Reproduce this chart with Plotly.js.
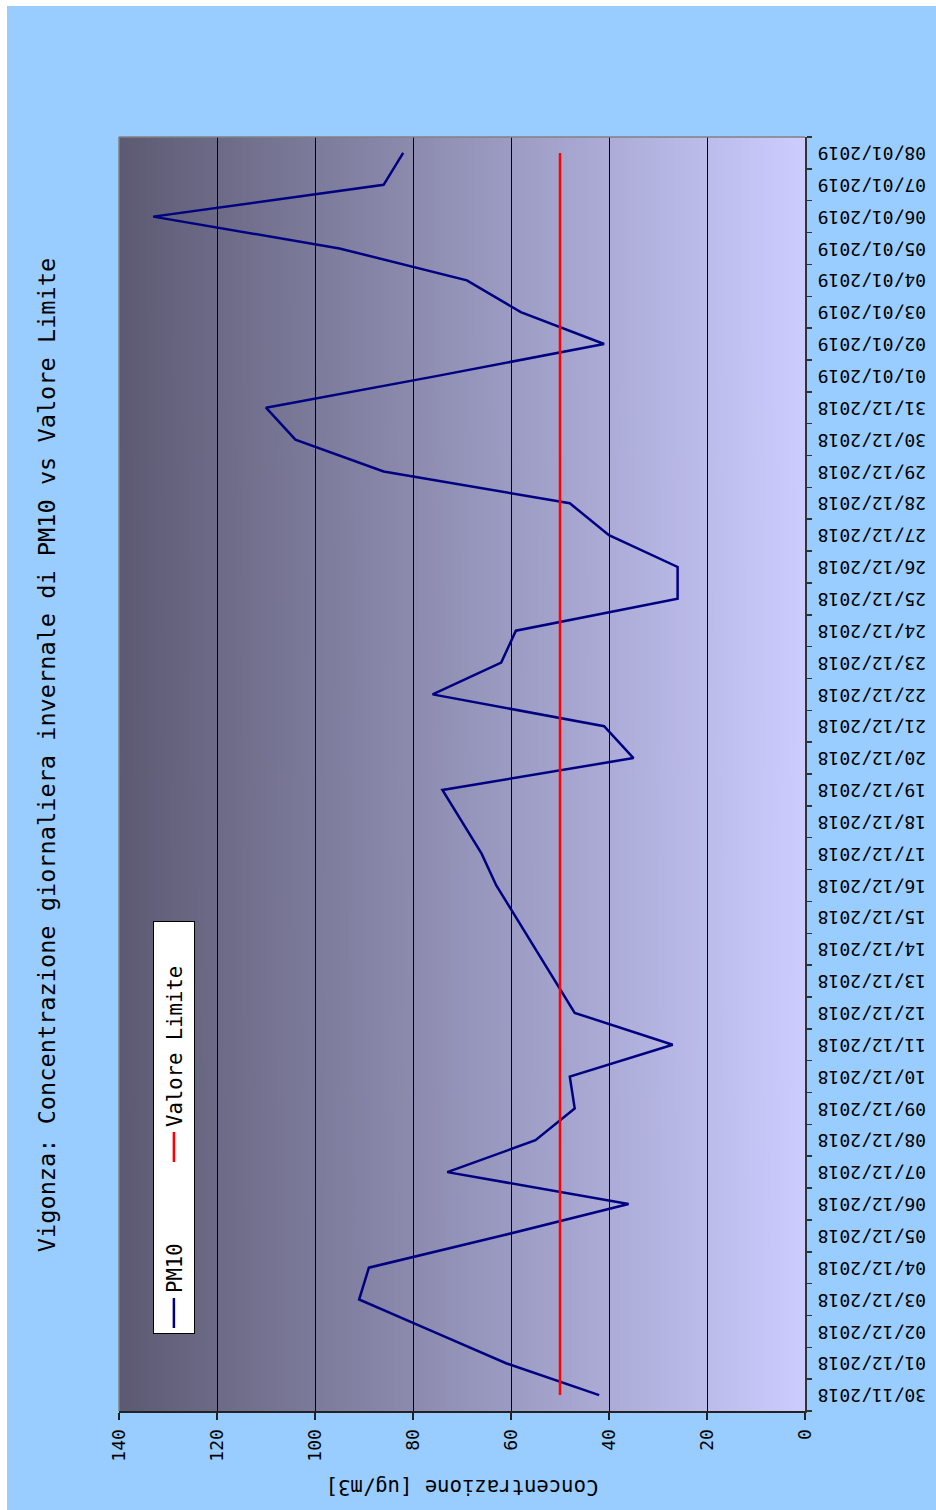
<!DOCTYPE html>
<html><head><meta charset="utf-8">
<script src="https://cdn.plot.ly/plotly-3.0.1.min.js"></script>
<style>
html,body{margin:0;padding:0;background:#fff;overflow:hidden;width:936px;height:1510px;}
#wrap{position:absolute;left:0;top:0;width:936px;height:1510px;overflow:hidden;}
#chart{position:absolute;left:0;top:0;width:1510px;height:936px;transform-origin:0 0;transform:translate(0,1510px) rotate(-90deg);}
.strip{position:absolute;background:#fff;}
</style></head><body>
<div id="wrap"><div id="chart"></div>
<div class="strip" style="left:0;top:0;width:7px;height:1510px"></div>
<div class="strip" style="left:0;top:0;width:936px;height:6px"></div>
</div>
<script>
const dates = ["30/11/2018","01/12/2018","02/12/2018","03/12/2018","04/12/2018","05/12/2018","06/12/2018","07/12/2018","08/12/2018","09/12/2018","10/12/2018","11/12/2018","12/12/2018","13/12/2018","14/12/2018","15/12/2018","16/12/2018","17/12/2018","18/12/2018","19/12/2018","20/12/2018","21/12/2018","22/12/2018","23/12/2018","24/12/2018","25/12/2018","26/12/2018","27/12/2018","28/12/2018","29/12/2018","30/12/2018","31/12/2018","01/01/2019","02/01/2019","03/01/2019","04/01/2019","05/01/2019","06/01/2019","07/01/2019","08/01/2019"];
const pm10 = [42,61,76,91,89,62,36,73,55,47,48,27,47,51,55,59,63,66,70,74,35,41,76,62,59,26,26,40,48,86,104,110,75,41,58,69,95,133,86,82];
const valoreLimite = [50,50,50,50,50,50,50,50,50,50,50,50,50,50,50,50,50,50,50,50,50,50,50,50,50,50,50,50,50,50,50,50,50,50,50,50,50,50,50,50];
const yTicks = [0,20,40,60,80,100,120,140];
const titleText = "Vigonza: Concentrazione giornaliera invernale di PM10 vs Valore Limite";
const yTitle = "Concentrazione [ug/m3]";

const MONO = "DejaVu Sans Mono";

// vertical gradient for the plot background
const cv = document.createElement('canvas');
cv.width = 4; cv.height = 512;
const ctx = cv.getContext('2d');
const grd = ctx.createLinearGradient(0,0,0,512);
grd.addColorStop(0,'#5c5a72');
grd.addColorStop(1,'#ccccff');
ctx.fillStyle = grd; ctx.fillRect(0,0,4,512);

const traces = [
  {type:'scatter', mode:'lines', name:'PM10', x:dates, y:pm10,
   line:{color:'#000080', width:2.5}, legendwidth:121},
  {type:'scatter', mode:'lines', name:'Valore Limite', x:dates, y:valoreLimite,
   line:{color:'#ff0000', width:2.5}, legendwidth:200}
];

const layout = {
  width:1510, height:936,
  margin:{l:99, r:137, t:119, b:131, pad:0},
  paper_bgcolor:'#99ccff',
  plot_bgcolor:'rgba(0,0,0,0)',
  font:{family:MONO, color:'#000'},
  title:{text:titleText, font:{family:MONO, size:23.6, color:'#000'},
         x:0.5, xref:'container', xanchor:'center', y:1-47/936, yref:'container', yanchor:'middle'},
  xaxis:{type:'category', range:[-0.5, dates.length-0.5], dtick:1, tick0:0,
         tickangle:-90, tickson:'boundaries', ticks:'outside', ticklen:5, tickwidth:1.5, tickcolor:'#333',
         showline:true, linecolor:'#333', linewidth:1.5, showgrid:false, zeroline:false,
         tickfont:{family:MONO, size:18, color:'#000'}, ticklabelstandoff:4, automargin:false},
  yaxis:{range:[0,140], tickmode:'array', tickvals:yTicks, ticktext:yTicks.map(String),
         ticks:'outside', ticklen:7, tickwidth:1.5, tickcolor:'#222',
         showline:true, linecolor:'#222', linewidth:1.5,
         showgrid:true, gridcolor:'#000', gridwidth:1, zeroline:false,
         tickfont:{family:MONO, size:18, color:'#000'}, ticklabelstandoff:6, automargin:false,
         title:{text:yTitle, font:{family:MONO, size:20.6, color:'#000'}, standoff:12}},
  legend:{orientation:'h', x:(176-99)/1274, xanchor:'left', y:(805-153)/686, yanchor:'top',
          bgcolor:'#ffffff', bordercolor:'#000', borderwidth:1,
          font:{family:MONO, size:20.6, color:'#000'}, itemwidth:30, traceorder:'normal'},
  images:[{source:cv.toDataURL(), xref:'paper', yref:'paper', x:0, y:1, sizex:1, sizey:1,
           sizing:'stretch', xanchor:'left', yanchor:'top', layer:'below'}],
  shapes:[
    {type:'line', xref:'paper', yref:'paper', x0:0, x1:1, y0:1, y1:1, line:{color:'#808080', width:1.5}, layer:'above'},
    {type:'line', xref:'paper', yref:'paper', x0:1, x1:1, y0:0, y1:1, line:{color:'#808080', width:1.5}, layer:'above'}
  ],
  showlegend:true
};

Plotly.newPlot('chart', traces, layout, {staticPlot:true, displayModeBar:false});
</script>
</body></html>
